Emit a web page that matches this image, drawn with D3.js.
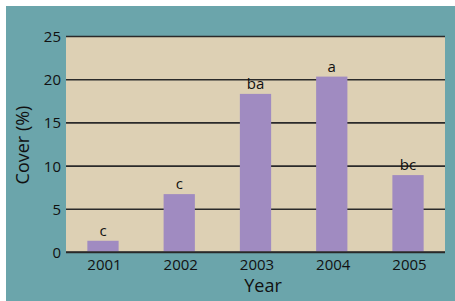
<!DOCTYPE html>
<html><head><meta charset="utf-8">
<script src="https://cdn.jsdelivr.net/npm/d3@7"></script>
<style>body{margin:0;background:#fff}svg text{font-family:"Open Sans",sans-serif;fill:#111}</style>
</head><body><svg id="c" width="455" height="301"></svg>
<script>
const years = ["2001","2002","2003","2004","2005"];
const cover = [1.3, 6.7, 18.3, 20.3, 8.9];
const letters = ["c","c","ba","a","bc"];
const yTicks = [0,5,10,15,20,25];

const svg = d3.select("#c");
svg.append("rect").attr("x",6).attr("y",6).attr("width",449).attr("height",295).attr("fill","#6ba5ab");
const m = {l:66, t:36, r:445, b:252};
const x = d3.scaleBand().domain(years).range([m.l, m.r]).paddingInner(0.59).paddingOuter(0.28);
const y = d3.scaleLinear().domain([0,25]).range([m.b, m.t]);
svg.append("rect").attr("x",m.l).attr("y",m.t).attr("width",m.r-m.l).attr("height",m.b-m.t).attr("fill","#ddd0b4");

const ya = svg.append("g").attr("transform",`translate(${m.l},0)`)
  .call(d3.axisLeft(y).tickValues(yTicks).tickSize(-(m.r-m.l)).tickPadding(5));
ya.select(".domain").remove();
ya.selectAll(".tick line").attr("stroke","#2a2a2a").attr("stroke-width",1.6);
ya.selectAll(".tick text").attr("font-size",15).attr("fill","#111").attr("dy","0.36em");

svg.append("g").selectAll("rect").data(years).join("rect")
  .attr("x",d=>x(d)).attr("width",x.bandwidth())
  .attr("y",(d,i)=>y(cover[i])).attr("height",(d,i)=>y(0)-y(cover[i]))
  .attr("fill","#a08bc1");
svg.append("line").attr("x1",m.l).attr("x2",m.r).attr("y1",y(0)).attr("y2",y(0)).attr("stroke","#2a2a2a").attr("stroke-width",1.6);

svg.append("g").selectAll("text").data(years).join("text")
  .attr("x",d=>x(d)+x.bandwidth()/2).attr("y",(d,i)=>y(cover[i])-5)
  .attr("text-anchor","middle").attr("font-size",15).text((d,i)=>letters[i]);

const xa = svg.append("g").attr("transform",`translate(0,${m.b})`)
  .call(d3.axisBottom(x).tickSize(0).tickPadding(7));
xa.select(".domain").remove();
xa.selectAll(".tick text").attr("font-size",15).attr("fill","#111").attr("dx","1.5");

svg.append("text").attr("x",263).attr("y",292).attr("text-anchor","middle").attr("font-size",18).text("Year");
svg.append("text").attr("transform","translate(29,145) rotate(-90)").attr("text-anchor","middle").attr("font-size",18).text("Cover (%)");
</script></body></html>
